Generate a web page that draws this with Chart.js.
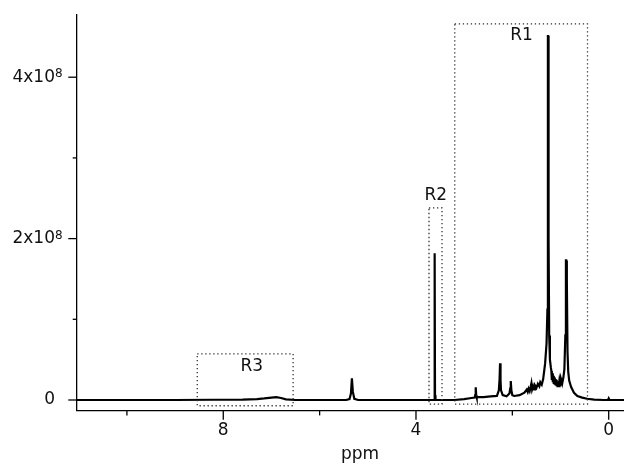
<!DOCTYPE html>
<html>
<head>
<meta charset="utf-8">
<script src="https://cdn.jsdelivr.net/npm/chart.js@4"></script>
<style>
  html,body{margin:0;padding:0;background:#fff;overflow:hidden;}
  #wrap{width:643px;height:465px;}
</style>
</head>
<body>
<div id="wrap"><canvas id="nmr" width="643" height="465"></canvas></div>
<script>
// ====== dados do espectro ======
const ppm = [
  11.04, 9.0, 8.2, 7.6, 7.3, 7.15, 7.0, 6.9, 6.8, 6.7, 6.5,
  5.45, 5.38, 5.35, 5.33, 5.31, 5.28, 5.2,
  3.70, 3.625, 3.615, 3.61, 3.605, 3.595, 3.58,
  3.2, 3.0, 2.85, 2.78, 2.77, 2.76, 2.75, 2.74, 2.6, 2.45, 2.32,
  2.28, 2.265, 2.255, 2.245, 2.235, 2.2, 2.12, 2.06, 2.045, 2.033, 2.02, 2.0, 1.96,
  1.85, 1.75, 1.70, 1.68, 1.66, 1.64, 1.62, 1.604, 1.59, 1.57, 1.55, 1.53, 1.50, 1.47, 1.44, 1.42, 1.39, 1.36,
  1.32, 1.29, 1.272, 1.262, 1.256, 1.248, 1.235, 1.22, 1.20,
  1.19, 1.18, 1.17, 1.16, 1.15, 1.14, 1.13, 1.12, 1.11, 1.10, 1.09, 1.08, 1.07, 1.06,
  1.05, 1.04, 1.03, 1.02, 1.01, 1.00, 0.99, 0.98, 0.97, 0.96, 0.94, 0.92,
  0.90, 0.888, 0.882, 0.872, 0.866, 0.855, 0.84, 0.82, 0.78, 0.72, 0.65, 0.55, 0.45, 0.3,
  0.1, 0.015, 0.0, -0.015, -0.71
];
const intensity = [
  0, 0, 0.3e6, 0.5e6, 1.2e6, 2.0e6, 3.0e6, 3.5e6, 2.5e6, 0.8e6, 0,
  0, 1e6, 8e6, 2.7e7, 1e7, 1.5e6, 0,
  0, 0, 6e6, 1.82e8, 6e6, 0, 0,
  0, 1.0e6, 2.5e6, 3e6, 6e6, 1.58e7, 6e6, 3.5e6, 3.5e6, 4.5e6, 5e6,
  1.2e7, 2.6e7, 4.56e7, 2.4e7, 1.2e7, 6e6, 4.5e6, 8e6, 1.4e7, 2.36e7, 1.2e7, 6e6, 5e6,
  6e6, 9e6, 1.3e7, 1.0e7, 1.4e7, 1.1e7, 1.6e7, 2.07e7, 1.3e7, 1.7e7, 1.3e7, 1.8e7, 1.5e7, 2.0e7, 1.7e7, 2.2e7, 1.9e7, 2.6e7,
  4.5e7, 7e7, 1.12e8, 4.51e8, 4.51e8, 2.0e8, 8e7, 5e7, 4e7,
  3.6e7, 2.5e7, 3.3e7, 2.2e7, 3.0e7, 2.0e7, 2.8e7, 1.9e7, 2.6e7, 1.8e7, 2.5e7, 1.7e7, 2.3e7, 1.6e7,
  2.2e7, 1.6e7, 2.1e7, 1.6e7, 2.2e7, 1.7e7, 2.4e7, 1.9e7, 2.8e7, 2.2e7, 2.8e7, 3.8e7,
  8e7, 1.73e8, 1.73e8, 1.55e8, 1.5e8, 6e7, 3.5e7, 2.4e7, 1.6e7, 9e6, 5e6, 3e6, 1.5e6, 0.5e6,
  0, 0, 2e6, 0, 0
];

// eixos
const xTicks = [10, 8, 6, 4, 2, 0];
const xLabels = ['', '8', '', '4', '', '0'];
const yTicks = [0, 1e8, 2e8, 3e8, 4e8];
const yLabels = ['0', '', '2x10', '', '4x10'];
const yExponents = ['', '', '8', '', '8'];

// regiões R1..R3 (ppm / intensidade)
const regionNames  = ['R1', 'R2', 'R3'];
const regionLeft   = [3.195, 3.73, 8.54];
const regionRight  = [0.44, 3.46, 6.55];
const regionTop    = [4.66e8, 2.38e8, 5.71e7];
const regionBottom = [-5.0e6, -5.0e6, -7.1e6];
const regionTextX  = [1.81, 3.59, 7.41];
const regionTextY  = [4.52e8, 2.53e8, 4.14e7];

const FONT = '"DejaVu Sans", "Liberation Sans", sans-serif';

// ====== plugin: ticks, expoentes e caixas pontilhadas ======
const extras = {
  id: 'extras',
  afterDatasetsDraw(chart) {
    const {ctx, scales: {x, y}} = chart;
    ctx.save();
    // caixas
    ctx.strokeStyle = '#333';
    ctx.lineWidth = 1.3;
    ctx.setLineDash([1.3, 2.7]);
    regionNames.forEach((n, i) => {
      const l = x.getPixelForValue(regionLeft[i]), r = x.getPixelForValue(regionRight[i]);
      const t = y.getPixelForValue(regionTop[i]), b = y.getPixelForValue(regionBottom[i]);
      ctx.strokeRect(l, t, r - l, b - t);
    });
    ctx.setLineDash([]);
    ctx.fillStyle = '#111';
    ctx.font = '17px ' + FONT;
    ctx.textAlign = 'center';
    ctx.textBaseline = 'middle';
    regionNames.forEach((n, i) => {
      ctx.fillText(n, x.getPixelForValue(regionTextX[i]), y.getPixelForValue(regionTextY[i]));
    });
    // ticks
    ctx.strokeStyle = '#000';
    ctx.lineWidth = 1.3;
    const ax = chart.chartArea;
    x.ticks.forEach((t, i) => {
      const px = x.getPixelForValue(t.value);
      const len = xLabels[i] ? 9 : 4.7;
      ctx.beginPath(); ctx.moveTo(px, ax.bottom); ctx.lineTo(px, ax.bottom + len); ctx.stroke();
    });
    // expoentes dos rótulos do eixo y
    ctx.font = '12px ' + FONT;
    ctx.textAlign = 'left';
    ctx.textBaseline = 'alphabetic';
    y.ticks.forEach((t, i) => {
      const py = y.getPixelForValue(t.value);
      const len = yLabels[i] ? 8.7 : 4.3;
      ctx.beginPath(); ctx.moveTo(ax.left, py); ctx.lineTo(ax.left - len, py); ctx.stroke();
      if (yExponents[i]) ctx.fillText(yExponents[i], ax.left - 22, py);
    });
    ctx.restore();
  }
};

new Chart(document.getElementById('nmr').getContext('2d'), {
  type: 'line',
  data: {
    datasets: [{
      data: ppm.map((p, i) => ({x: p, y: intensity[i]})),
      borderColor: '#000',
      borderWidth: 2.2,
      pointRadius: 0,
      tension: 0,
      fill: false
    }]
  },
  options: {
    responsive: false,
    animation: false,
    layout: { padding: { top: 15, right: 0, left: 0, bottom: 0 } },
    plugins: { legend: { display: false }, tooltip: { enabled: false } },
    scales: {
      x: {
        type: 'linear',
        reverse: true,
        min: -0.712,
        max: 11.036,
        afterBuildTicks: s => { s.ticks = xTicks.map(v => ({value: v})); },
        afterFit: s => { s.height = 54.3; s.paddingLeft = 0; s.paddingRight = 0; },
        grid: { display: false, drawTicks: false },
        border: { display: true, color: '#000', width: 1.3 },
        ticks: {
          padding: 10,
          color: '#111',
          font: { family: FONT, size: 17 },
          maxRotation: 0,
          autoSkip: false,
          callback: (v, i) => xLabels[i]
        },
        title: { display: true, text: 'ppm', color: '#111', font: { family: FONT, size: 17 }, padding: 0 }
      },
      y: {
        type: 'linear',
        min: -1.326e7,
        max: 4.771e8,
        afterBuildTicks: s => { s.ticks = yTicks.map(v => ({value: v})); },
        afterFit: s => { s.width = 77; s.paddingTop = 0; s.paddingBottom = 0; },
        grid: { display: false, drawTicks: false },
        border: { display: true, color: '#000', width: 1.3 },
        ticks: {
          padding: 22,
          color: '#111',
          font: { family: FONT, size: 17 },
          autoSkip: false,
          callback: (v, i) => yLabels[i]
        }
      }
    }
  },
  plugins: [extras]
});
</script>
</body>
</html>
